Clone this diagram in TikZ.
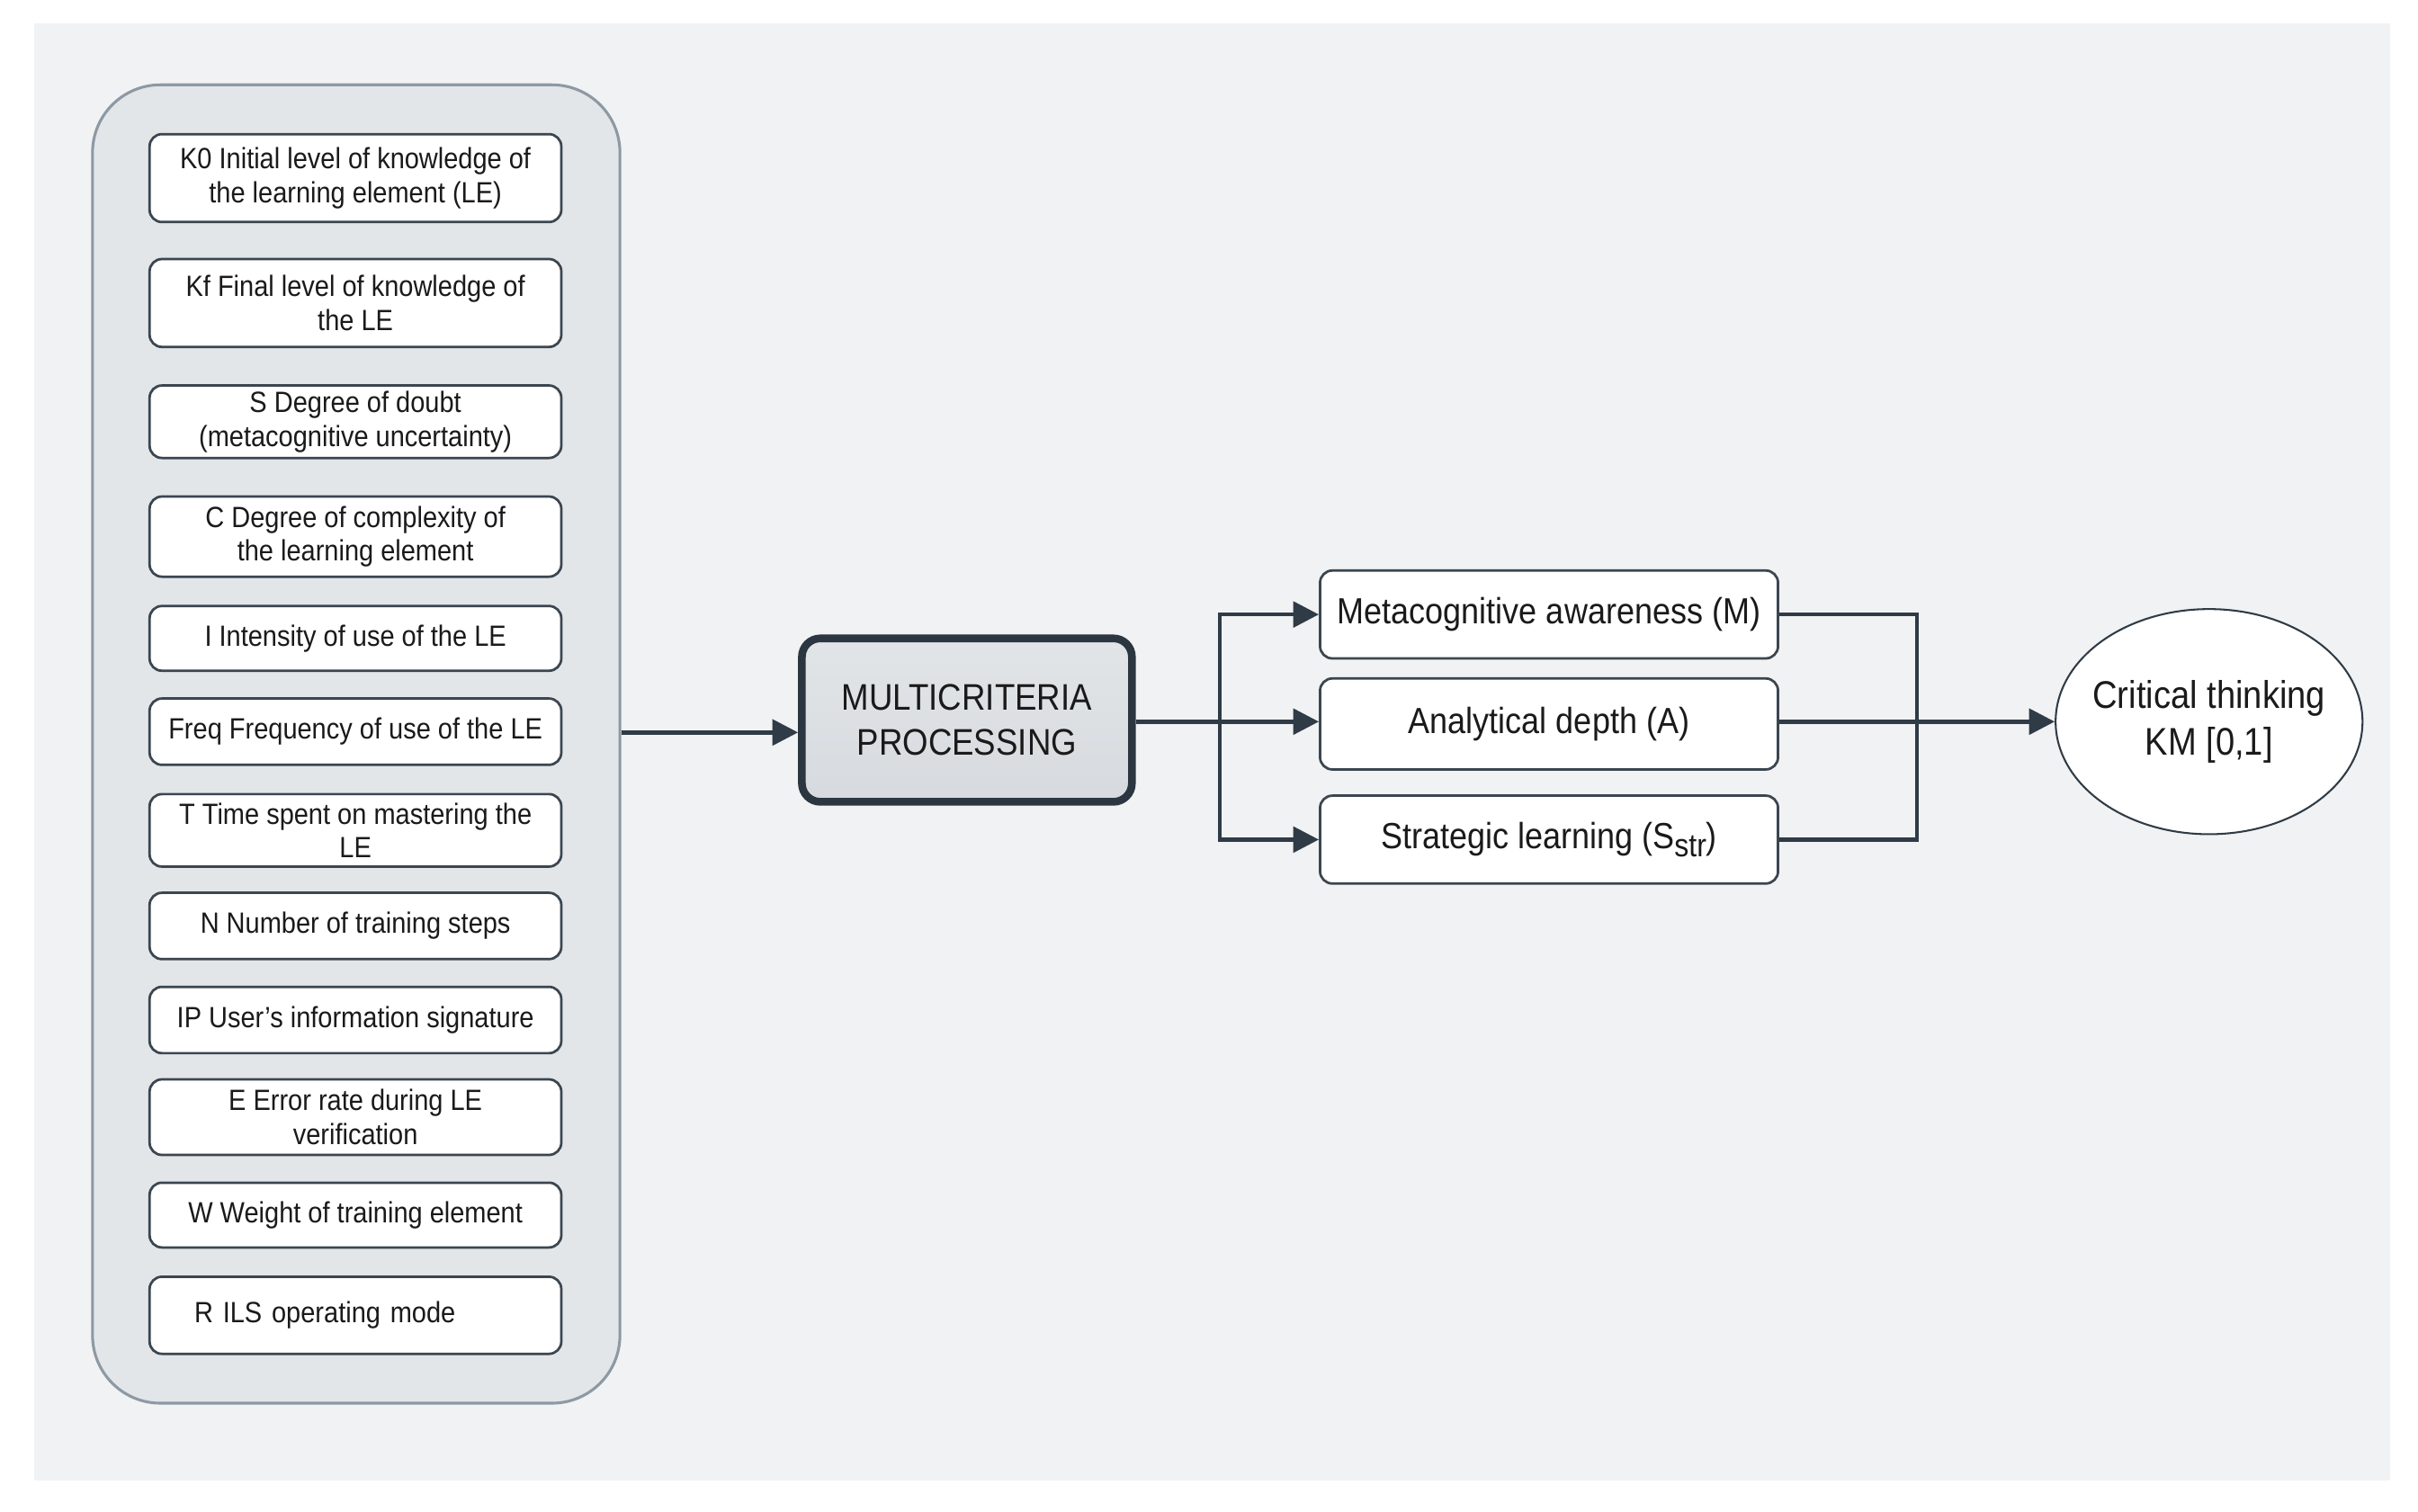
\documentclass[tikz,border=0pt]{standalone}
\usepackage{fontspec}
\setmainfont[FakeStretch=0.89]{Liberation Sans}
\usetikzlibrary{arrows.meta,shapes.geometric,calc}
\definecolor{bgc}{HTML}{F1F2F3}
\definecolor{contfill}{HTML}{E3E6E9}
\definecolor{contline}{HTML}{8D99A3}
\definecolor{boxline}{HTML}{3B4650}
\definecolor{mpfill}{HTML}{D6DADE}
\definecolor{mpline}{HTML}{2B3640}
\definecolor{conn}{HTML}{2F3B46}
\definecolor{txt}{HTML}{1A1A1A}
\begin{document}
\begin{tikzpicture}[x=0.5pt,y=-0.5pt,
  container/.style={draw=contline, line width=0.9pt, fill=contfill, rounded corners=22pt, inner sep=0pt},
  inbox/.style={draw=boxline, line width=0.8pt, fill=white, rounded corners=4pt, minimum width=133.5pt, align=center, font=\fontsize{9.5}{11}\selectfont, inner sep=0pt, text=txt},
  mpbox/.style={draw=mpline, line width=2.5pt, top color=mpfill!70!white, bottom color=mpfill, rounded corners=6pt, minimum width=107pt, minimum height=53pt, align=center, font=\fontsize{12}{14.5}\selectfont, inner sep=0pt, text=txt},
  outbox/.style={draw=boxline, line width=0.8pt, fill=white, rounded corners=4pt, minimum width=148.5pt, align=center, font=\fontsize{11.8}{14}\selectfont, inner sep=0pt, text=txt},
  result/.style={ellipse, draw=conn, line width=0.6pt, fill=white, minimum width=99.5pt, minimum height=73pt, inner xsep=-6pt, inner ysep=0pt, align=center, font=\fontsize{12.5}{15}\selectfont, text=txt},
  conline/.style={draw=conn, line width=1.3pt},
  arr/.style={conline, -{Triangle[length=8.3pt,width=8.3pt]}}
]
\useasboundingbox (0,0) rectangle (1568,980);
\fill[white] (0,0) rectangle (1568,980);
\fill[bgc] (22,15) rectangle (1550,960);

\node[container, minimum width=171pt, minimum height=427.5pt] (cont) at (231,482.5) {};

\node[inbox, minimum height=28.5pt] (k0) at (230.5,115.5) {K0 Initial level of knowledge of\\the learning element (LE)};
\node[inbox, minimum height=28.5pt] (kf) at (230.5,196.5) {Kf Final level of knowledge of\\the LE};
\node[inbox, minimum height=23.5pt] (s) at (230.5,273.5) {S Degree of doubt\\(metacognitive uncertainty)};
\node[inbox, minimum height=26pt] (c) at (230.5,348) {C Degree of complexity of\\the learning element};
\node[inbox, minimum height=21pt] (i) at (230.5,414) {I Intensity of use of the LE};
\node[inbox, minimum height=21.5pt] (freq) at (230.5,474.5) {Freq Frequency of use of the LE};
\node[inbox, minimum height=23.5pt] (t) at (230.5,538.5) {T Time spent on mastering the\\LE};
\node[inbox, minimum height=21.5pt] (n) at (230.5,600.5) {N Number of training steps};
\node[inbox, minimum height=21.5pt] (ip) at (230.5,661.5) {IP User's information signature};
\node[inbox, minimum height=24.5pt] (e) at (230.5,724.5) {E Error rate during LE\\verification};
\node[inbox, minimum height=21pt] (w) at (230.5,788) {W Weight of training element};
\node[inbox, minimum height=25pt, text width=104.5pt, align=left] (r) at (230.5,853) {R ILS operating mode};

\node[mpbox] (mp) at (627,467) {MULTICRITERIA\\PROCESSING};

\node[outbox, minimum height=28.5pt] (m) at (1004.5,398.5) {Metacognitive awareness (M)};
\node[outbox, minimum height=29.5pt] (a) at (1004.5,469.5) {Analytical depth (A)};
\node[outbox, minimum height=28.5pt] (sl) at (1004.5,544.5) {Strategic learning (S\raisebox{-0.45ex}{\fontsize{10.5}{12}\selectfont str})};

\node[result] (km) at (1432.5,468) {Critical thinking\\KM [0,1]};

\coordinate (inY) at (0,475);
\coordinate (outY) at (0,468);
\coordinate (split) at (791,468);
\coordinate (join) at (1243,468);

\draw[arr] (cont.east |- inY) -- (mp.west |- inY);
\draw[conline] (mp.east |- outY) -- (split);
\draw[arr] (split) -- (a.west |- outY);
\draw[arr] (split) |- (m.west);
\draw[arr] (split) |- (sl.west);
\draw[conline] (m.east) -| (join);
\draw[conline] (sl.east) -| (join);
\draw[arr] (a.east |- outY) -- (km.west);
\end{tikzpicture}
\end{document}
